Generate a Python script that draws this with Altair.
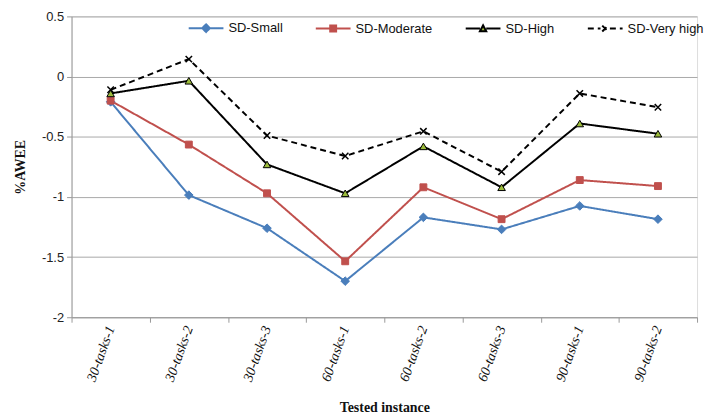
import altair as alt
import pandas as pd

instances = ["30-tasks-1", "30-tasks-2", "30-tasks-3", "60-tasks-1",
             "60-tasks-2", "60-tasks-3", "90-tasks-1", "90-tasks-2"]
series_names = ["SD-Small", "SD-Moderate", "SD-High", "SD-Very high"]
sd_small = [-0.21, -0.985, -1.26, -1.70, -1.17, -1.27, -1.075, -1.185]
sd_moderate = [-0.20, -0.565, -0.97, -1.535, -0.92, -1.185, -0.86, -0.91]
sd_high = [-0.14, -0.035, -0.73, -0.97, -0.58, -0.92, -0.39, -0.475]
sd_very_high = [-0.11, 0.145, -0.49, -0.66, -0.455, -0.79, -0.14, -0.255]
y_ticks = [-2, -1.5, -1, -0.5, 0, 0.5]

values = {
    "SD-Small": sd_small,
    "SD-Moderate": sd_moderate,
    "SD-High": sd_high,
    "SD-Very high": sd_very_high,
}

rows = []
for s in series_names:
    for inst, v in zip(instances, values[s]):
        rows.append({"instance": inst, "value": v, "series": s})
df = pd.DataFrame(rows)

# styles
line_color = {"SD-Small": "#4A7EBB", "SD-Moderate": "#C0504D",
              "SD-High": "#000000", "SD-Very high": "#000000"}
marker_fill = {"SD-Small": "#4A7EBB", "SD-Moderate": "#C0504D",
               "SD-High": "#9BBB3B", "SD-Very high": "#000000"}
line_dash = {"SD-Small": [1, 0], "SD-Moderate": [1, 0],
             "SD-High": [1, 0], "SD-Very high": [6, 4]}
x_path = "M-1,-1L1,1M-1,1L1,-1"
marker_shape = {"SD-Small": "diamond", "SD-Moderate": "square",
                "SD-High": "triangle-up", "SD-Very high": x_path}
marker_size = {"SD-Small": 75, "SD-Moderate": 48,
               "SD-High": 58, "SD-Very high": 42}
legend_paths = [
    "M-1,0L-0.2,0M0.2,0L1,0M0,-0.22L0.22,0L0,0.22L-0.22,0Z",
    "M-1,0L-0.17,0M0.17,0L1,0M-0.17,-0.17L0.17,-0.17L0.17,0.17L-0.17,0.17Z",
    "M-1,0L-0.18,0M0.18,0L1,0M0,-0.18L0.18,0.15L-0.18,0.15Z",
    "M-1,0L-0.27,0M0.27,0L1,0M-0.17,-0.17L0.17,0.17M-0.17,0.17L0.17,-0.17",
]

x_enc = alt.X(
    "instance:N",
    sort=instances,
    scale=alt.Scale(type="band", domain=instances, paddingInner=0, paddingOuter=0),
    axis=alt.Axis(
        title="Tested instance",
        labelAngle=290,
        labelAlign="right",
        labelBaseline="middle",
        labelFont="Liberation Serif",
        labelFontStyle="italic",
        labelFontSize=14,
        labelColor="#111",
        labelPadding=4,
        tickBand="extent",
        tickColor="#999",
        tickSize=5,
        domainColor="#999",
        grid=False,
        titleFont="Liberation Serif",
        titleFontWeight="bold",
        titleFontSize=14,
        titleColor="#111",
        titlePadding=18,
    ),
)
y_enc = alt.Y(
    "value:Q",
    scale=alt.Scale(domain=[-2, 0.5], nice=False, zero=False),
    axis=alt.Axis(
        title="%AWEE",
        values=y_ticks,
        labelExpr="toString(datum.value)",
        labelFont="Liberation Sans",
        labelFontSize=13,
        labelColor="#222",
        labelPadding=3,
        tickColor="#999",
        tickSize=5,
        domainColor="#999",
        gridColor="#a8a8a8",
        gridWidth=1,
        titleFont="Liberation Serif",
        titleFontWeight="bold",
        titleFontSize=14,
        titleColor="#111",
        titlePadding=14,
    ),
)

base = alt.Chart(df)

legend = alt.Legend(
    title=None,
    orient="none",
    legendX=117,
    legendY=-7,
    direction="horizontal",
    labelFont="Liberation Sans",
    labelFontSize=13,
    labelColor="#111",
    labelOffset=4,
    symbolSize=1225,
    symbolStrokeWidth=2,
    symbolOpacity=1,
    columnPadding=29,
    padding=0,
)

legend_layer = base.mark_point(filled=True, opacity=0).encode(
    x=x_enc,
    y=y_enc,
    shape=alt.Shape("series:N", scale=alt.Scale(domain=series_names, range=legend_paths), legend=legend),
    fill=alt.Fill("series:N", scale=alt.Scale(domain=series_names, range=[marker_fill[s] for s in series_names]), legend=legend),
    stroke=alt.Stroke("series:N", scale=alt.Scale(domain=series_names, range=[line_color[s] for s in series_names]), legend=legend),
    strokeDash=alt.StrokeDash("series:N", scale=alt.Scale(domain=series_names, range=[line_dash[s] for s in series_names]), legend=legend),
)

layers = [legend_layer]
for s in series_names:
    layers.append(
        base.transform_filter(alt.datum.series == s)
        .mark_line(color=line_color[s], strokeWidth=2, strokeDash=line_dash[s])
        .encode(x=x_enc, y=y_enc)
    )
for s in series_names:
    if s == "SD-Very high":
        mk = base.transform_filter(alt.datum.series == s).mark_point(
            shape=marker_shape[s], size=marker_size[s], filled=False,
            stroke="#000", strokeWidth=1.5, opacity=1)
    elif s == "SD-High":
        mk = base.transform_filter(alt.datum.series == s).mark_point(
            shape=marker_shape[s], size=marker_size[s], filled=True,
            fill=marker_fill[s], stroke="#000", strokeWidth=1, opacity=1)
    else:
        mk = base.transform_filter(alt.datum.series == s).mark_point(
            shape=marker_shape[s], size=marker_size[s], filled=True,
            fill=marker_fill[s], stroke=marker_fill[s], strokeWidth=1, opacity=1)
    layers.append(mk.encode(x=x_enc, y=y_enc))

chart = alt.layer(*layers).properties(
    width=630,
    height=303,
    padding={"left": 5, "top": 0, "right": 0, "bottom": 0},
).configure_view(stroke=None).configure(background="white")

chart.save("out.html", embed_options={"renderer": "svg", "actions": False})
